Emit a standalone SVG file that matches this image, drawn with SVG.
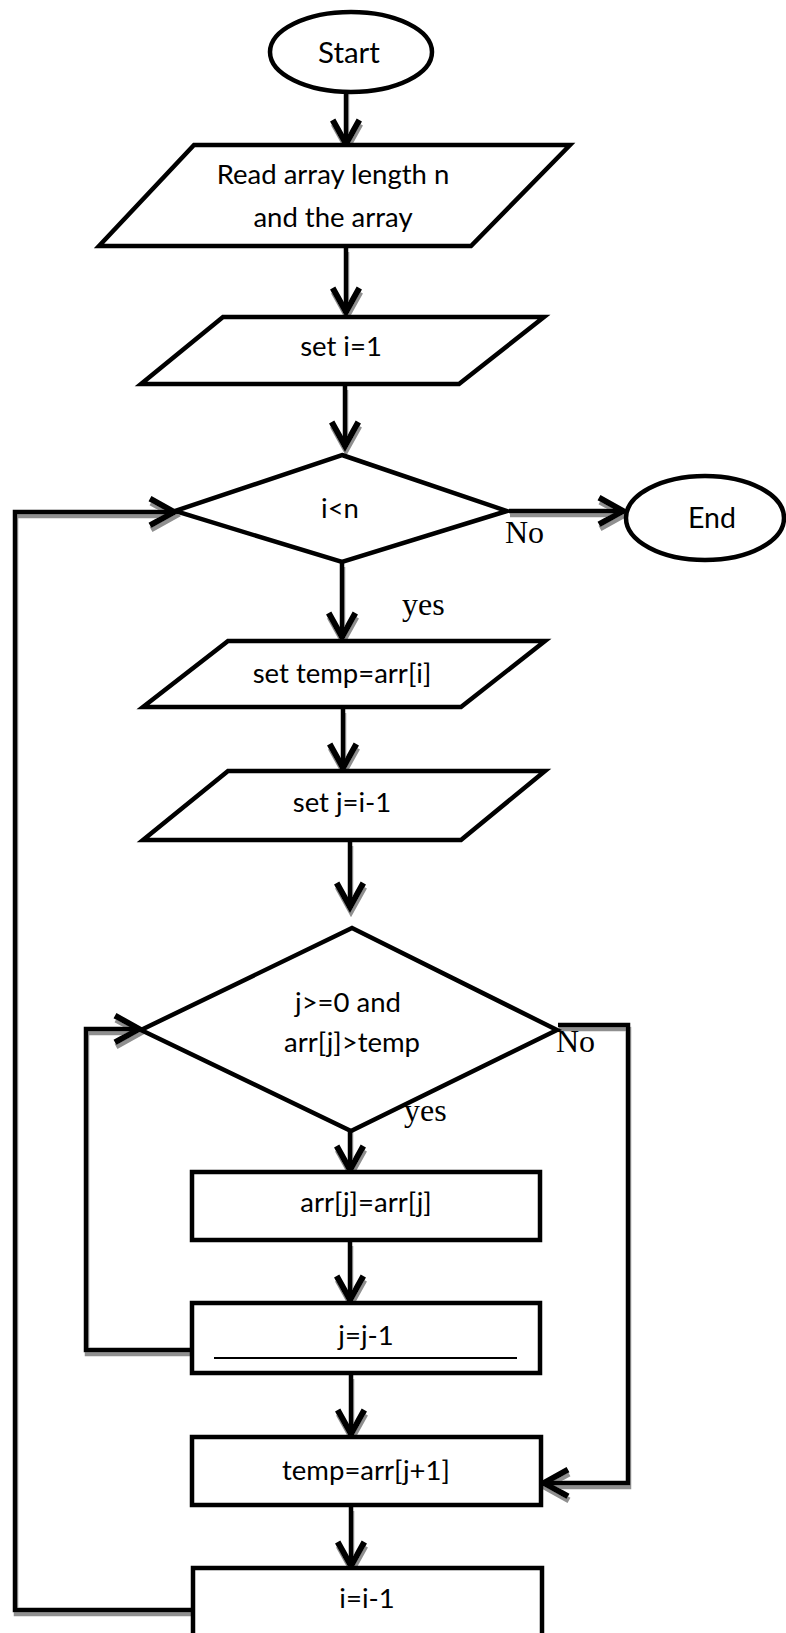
<svg xmlns="http://www.w3.org/2000/svg" width="786" height="1633" viewBox="0 0 786 1633">
<style>
.shape{fill:#fff;stroke:#000;stroke-width:4.5;stroke-linejoin:miter}
.t{font-family:Lato,"Open Sans",sans-serif;font-size:27.5px;fill:#000;text-anchor:middle}
.lbl{font-family:"Liberation Serif","Times New Roman",serif;font-size:32px;fill:#000}
.c{fill:none;stroke:#000;stroke-width:4.5;stroke-linejoin:miter}
.arr{marker-end:url(#ah)}
</style>
<defs>
<marker id="ah" markerUnits="userSpaceOnUse" markerWidth="40" markerHeight="40" viewBox="-25 -15 30 30" refX="0" refY="0" orient="auto" overflow="visible">
<path d="M-18,-10 L0,0 L-18,10" fill="none" stroke="#000" stroke-width="4.5"/>
</marker>
<filter id="sh" x="-10%" y="-10%" width="120%" height="120%">
<feDropShadow dx="1" dy="4" stdDeviation="0.4" flood-color="#8f8f8f" flood-opacity="1"/>
</filter>
</defs>

<g id="connectors" filter="url(#sh)">
<line class="c arr" x1="346" y1="90" x2="346" y2="144"/>
<line class="c arr" x1="346" y1="248" x2="346" y2="312"/>
<line class="c arr" x1="345" y1="386" x2="345" y2="446"/>
<line class="c arr" x1="509" y1="511" x2="623" y2="511"/>
<line class="c arr" x1="342" y1="563" x2="342" y2="637"/>
<line class="c arr" x1="343" y1="709" x2="343" y2="768"/>
<line class="c arr" x1="350" y1="842" x2="350" y2="907"/>
<line class="c arr" x1="350" y1="1120" x2="350" y2="1170"/>
<line class="c arr" x1="350" y1="1242" x2="350" y2="1300"/>
<line class="c arr" x1="351" y1="1375" x2="351" y2="1434"/>
<line class="c arr" x1="351" y1="1507" x2="351" y2="1566"/>
<polyline class="c arr" points="193,1610 15,1610 15,512 174,512"/>
<polyline class="c arr" points="192,1350 86,1350 86,1029 139,1029"/>
<polyline class="c arr" points="558,1025 628,1025 628,1483 544,1483"/>
</g>

<g id="start"><ellipse class="shape" cx="351" cy="52" rx="81" ry="40"/><text class="t" x="349" y="63" style="font-size:29.5px">Start</text></g>
<g id="read"><polygon class="shape" points="194,145 570,145 471,246 99,246"/><text class="t" x="333" y="184">Read array length n</text><text class="t" x="333" y="227">and the array</text></g>
<g id="seti"><polygon class="shape" points="223,317 544,317 459,384 141,384"/><text class="t" x="341" y="356">set i=1</text></g>
<g id="cond1"><polygon class="shape" points="342,455 507,511 342,562 175,511"/><text class="t" x="340" y="518">i&lt;n</text></g>
<g id="end"><ellipse class="shape" cx="705" cy="518" rx="79" ry="42"/><text class="t" x="712" y="528" style="font-size:28.5px">End</text></g>
<g id="settemp"><polygon class="shape" points="228,641 545,641 461,707 143,707"/><text class="t" x="342" y="683">set temp=arr[i]</text></g>
<g id="setj"><polygon class="shape" points="228,771 545,771 461,840 143,840"/><text class="t" x="342" y="812">set j=i-1</text></g>
<g id="cond2"><polygon class="shape" points="352,928 557,1030 351,1131 141,1030"/><text class="t" x="348" y="1012">j&gt;=0 and</text><text class="t" x="352" y="1052">arr[j]&gt;temp</text></g>
<g id="shift"><rect class="shape" x="192" y="1172" width="348" height="68"/><text class="t" x="366" y="1212">arr[j]=arr[j]</text></g>
<g id="decj"><rect class="shape" x="192" y="1303" width="348" height="70"/><text class="t" x="366" y="1345">j=j-1</text><line x1="214" y1="1358" x2="517" y2="1358" stroke="#000" stroke-width="2"/></g>
<g id="assign"><rect class="shape" x="192" y="1437" width="349" height="68"/><text class="t" x="366" y="1480">temp=arr[j+1]</text></g>
<g id="deci"><rect class="shape" x="193" y="1568" width="349" height="75"/><text class="t" x="367" y="1608">i=i-1</text></g>

<g id="labels">
<text class="lbl" x="505" y="543">No</text>
<text class="lbl" x="402" y="615">yes</text>
<text class="lbl" x="556" y="1052">No</text>
<text class="lbl" x="404" y="1121">yes</text>
</g>
</svg>
